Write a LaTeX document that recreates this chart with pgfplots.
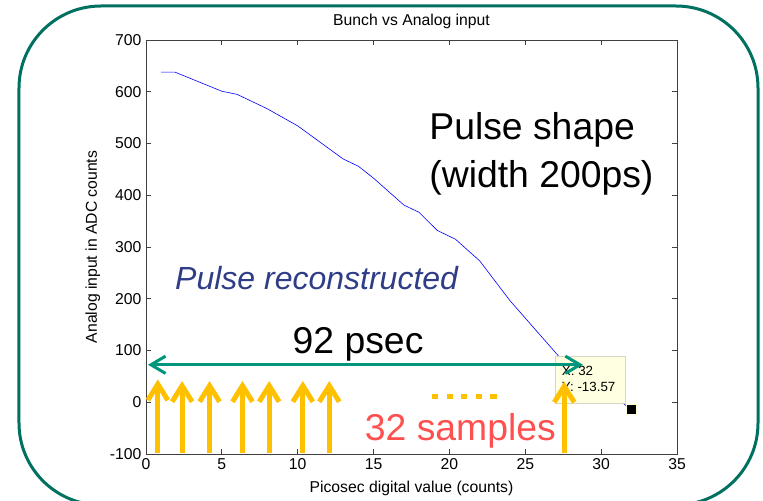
\documentclass[border=0pt]{standalone}
\usepackage{fontspec}
\setmainfont{Liberation Sans}
\usepackage{pgfplots}
\usepackage{pgfplotstable}
\pgfplotsset{compat=1.18}
\usetikzlibrary{arrows.meta}

\definecolor{frameteal}{RGB}{0,112,96}
\definecolor{arrowteal}{RGB}{0,150,125}
\definecolor{sampleorange}{RGB}{255,192,0}
\definecolor{samplered}{RGB}{255,80,80}
\definecolor{recoblue}{RGB}{47,61,135}
\definecolor{tipfill}{RGB}{255,255,225}
\definecolor{tipdraw}{RGB}{215,215,195}

% pixel position in the 763x500 frame -> picture coordinates
\newcommand{\px}[2]{({(#1-146)*0.75pt},{(454-#2)*0.75pt})}

\pgfplotstableread{
x     y
1.0   638
1.9   638
5.0   601
6.0   595
8.0   567
10.0  534
13.0  470
14.0  456
15.0  433
17.0  381
18.0  367
19.2  332
20.4  315
22.0  273
24.0  196
27.5  79
32.0  -13.57
}\pulsedata

\pgfplotstableread{
x      y    v
0.78   -98  142
2.38   -99  140
4.19   -99  140
6.36   -99  140
8.12   -99  140
10.34  -99  140
12.08  -99  140
27.57  -99  139
}\samples

\begin{document}
\begin{tikzpicture}
\path[use as bounding box] \px{0}{0} rectangle \px{763}{500};
\begin{axis}[
  at={(0,0)}, anchor=south west,
  scale only axis, width=398.25pt, height=310.5pt,
  xmin=0, xmax=35, ymin=-100, ymax=700,
  xtick={0,5,...,35}, ytick={-100,0,...,700},
  tick align=inside, tick pos=both, major tick length=4pt,
  axis line style={black!75, line width=0.6pt},
  tick style={black!75, line width=0.6pt},
  clip=false,
  font=\fontsize{11.8}{14}\selectfont,
  /pgf/number format/assume math mode=true,
  ticklabel style={font=\fontsize{11.8}{14}\selectfont},
  title={Bunch vs Analog input},
  title style={at={(axis description cs:0.5,1.0145)}, anchor=base, inner sep=0pt},
  xlabel={Picosec digital value (counts)},
  xlabel style={at={(axis description cs:0.5,-0.0918)}, anchor=base, inner sep=0pt},
  ylabel={Analog input in ADC counts},
  ylabel style={at={(axis description cs:-0.0923,0.5)}, anchor=base, inner sep=0pt},
]
% reconstructed pulse
\addplot[blue, line width=0.45pt, no markers] table[x=x,y=y] {\pulsedata};

% data tip
\filldraw[fill=tipfill, draw=tipdraw, line width=0.6pt]
  (axis cs:27.0,88) rectangle (axis cs:31.6,-3);
\addplot[only marks, mark=square*, mark size=3.9pt,
  mark options={fill=black, draw=tipfill, line width=1.1pt}]
  coordinates {(32,-13.57)};
\node[anchor=west, inner sep=0pt, font=\fontsize{10}{12}\selectfont] at (axis cs:27.4,60.4) {X: 32};
\node[anchor=west, inner sep=0pt, font=\fontsize{10}{12}\selectfont] at (axis cs:27.4,30) {Y: -13.57};

% 92 psec span
\addplot[arrowteal, line width=2.25pt,
  {Straight Barb[length=11pt,width=13pt]}-{Straight Barb[length=11pt,width=13pt]}]
  coordinates {(0.13,72.4) (28.8,72.4)};

% samples
\addplot[sampleorange, line width=3.75pt,
  -{Straight Barb[length=12pt,width=15pt]},
  quiver={u=0, v=\thisrow{v}}] table[x=x,y=y] {\samples};
\addplot[sampleorange, line width=3.2pt, dash pattern=on 4.8pt off 6.1pt]
  coordinates {(18.85,11) (23.14,11)};

% annotations
\node[anchor=base west, inner sep=0pt, font=\fontsize{28}{34}\selectfont] at (axis cs:18.66,506.8) {Pulse shape};
\node[anchor=base west, inner sep=0pt, font=\fontsize{28}{34}\selectfont] at (axis cs:18.66,415.9) {(width 200ps)};
\node[anchor=base west, inner sep=0pt, text=recoblue, font=\fontsize{24}{29}\selectfont\itshape] at (axis cs:1.91,218.8) {Pulse reconstructed};
\node[anchor=base, inner sep=0pt, font=\fontsize{28}{34}\selectfont] at (axis cs:13.98,93.5) {92 psec};
\node[anchor=base, inner sep=0pt, text=samplered, font=\fontsize{28}{34}\selectfont] at (axis cs:20.72,-74.3) {32 samples};
\end{axis}
\draw[frameteal, line width=2.25pt, rounded corners=61.5pt] \px{19}{6} rectangle \px{758}{505};
\end{tikzpicture}
\end{document}
